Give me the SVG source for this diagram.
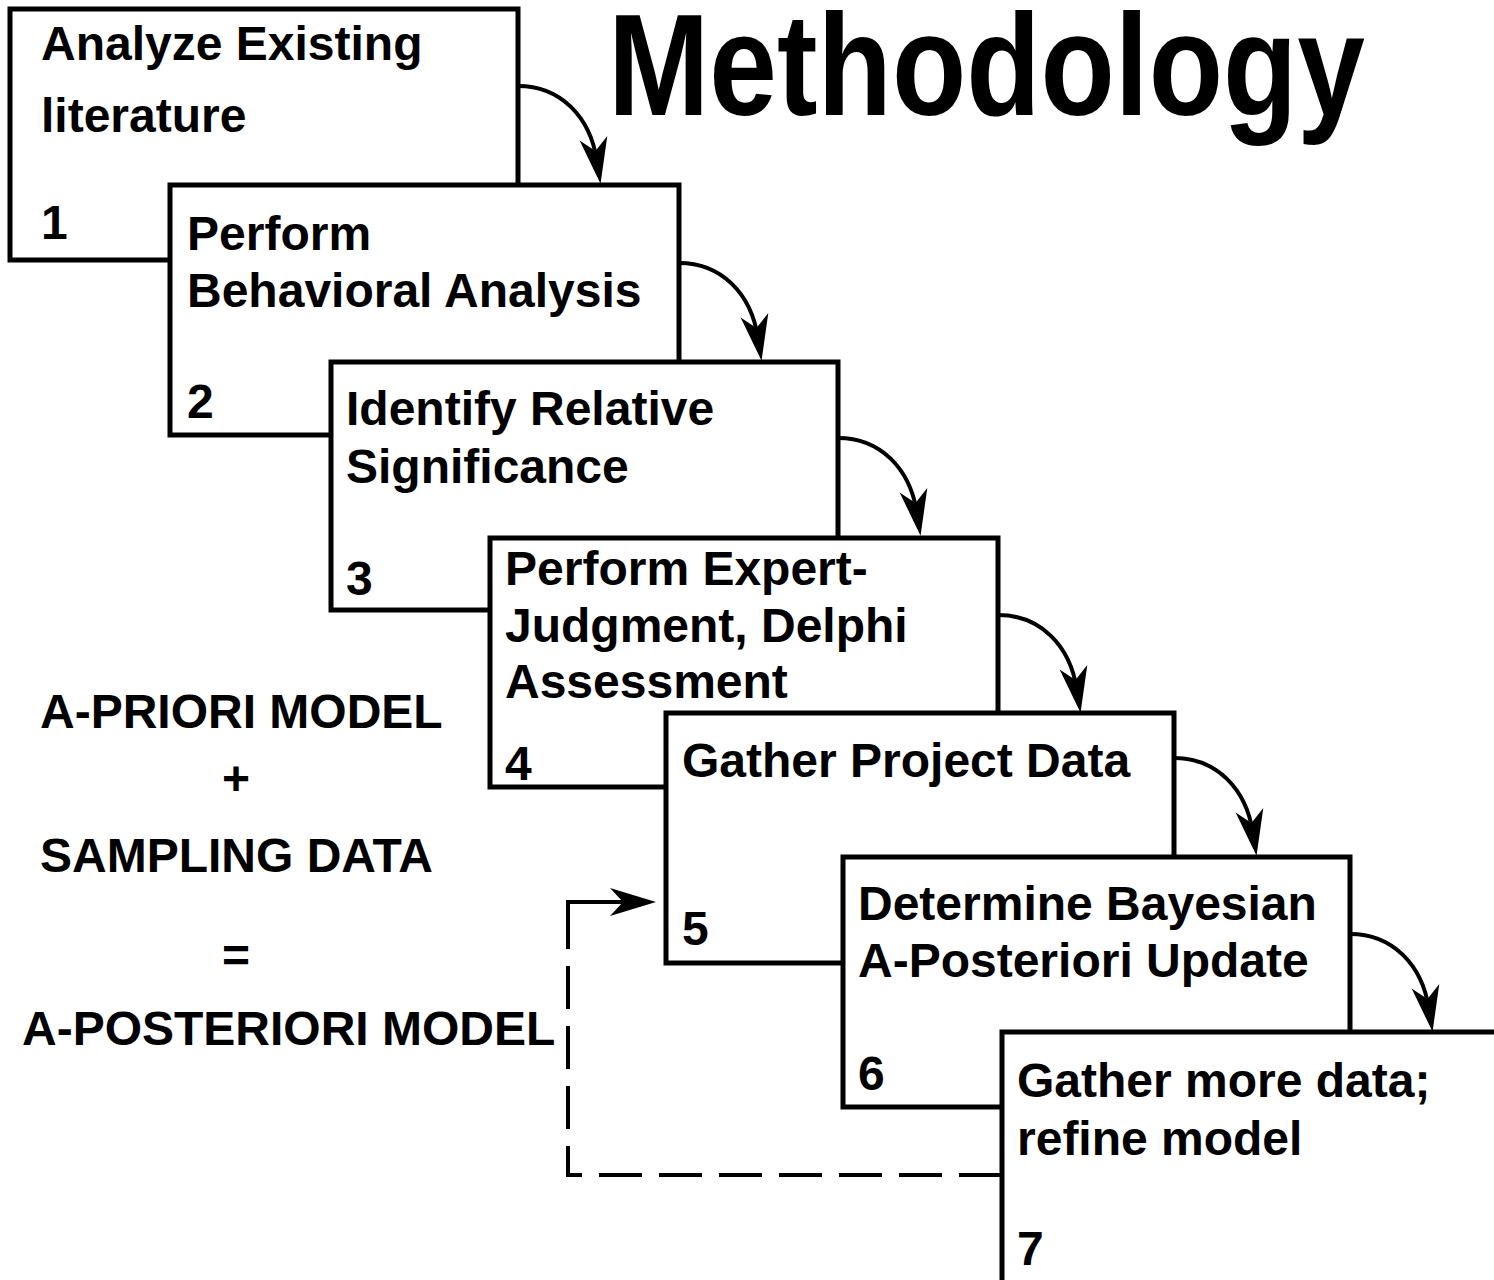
<svg xmlns="http://www.w3.org/2000/svg" width="1494" height="1280" viewBox="0 0 1494 1280">
  <style>
    .box { fill: #ffffff; stroke: #000000; stroke-width: 5; }
    .t { font-family: "Liberation Sans", Arial, sans-serif; font-weight: bold; font-size: 48px; fill: #000000; }
    .title { font-family: "Liberation Sans", Arial, sans-serif; font-weight: bold; font-size: 144px; fill: #000000; }
    .arc { fill: none; stroke: #000000; stroke-width: 4; marker-end: url(#arrow); }
    .dash { fill: none; stroke: #000000; stroke-width: 4; stroke-dasharray: 43 17; }
    .solid { fill: none; stroke: #000000; stroke-width: 4; marker-end: url(#arrow); }
  </style>
  <defs>
    <marker id="arrow" markerUnits="userSpaceOnUse" markerWidth="48" markerHeight="30" refX="23" refY="14" orient="auto" overflow="visible">
      <path d="M0,0 L46,14 L0,28 L13,14 Z" fill="#000000" stroke="none"/>
    </marker>
  </defs>
  <rect width="1494" height="1280" fill="#ffffff"/>

  <text class="title" x="608" y="115" textLength="757" lengthAdjust="spacingAndGlyphs">Methodology</text>

  <g id="node1">
    <rect class="box" x="10" y="9" width="508" height="251"/>
    <text class="t" x="41" y="60">Analyze Existing</text>
    <text class="t" x="41" y="132">literature</text>
    <text class="t" x="41" y="239">1</text>
  </g>
  <g id="node2">
    <rect class="box" x="170" y="185" width="509" height="250"/>
    <text class="t" x="187" y="250">Perform</text>
    <text class="t" x="187" y="307">Behavioral Analysis</text>
    <text class="t" x="187" y="418">2</text>
  </g>
  <g id="node3">
    <rect class="box" x="331" y="362" width="507" height="248"/>
    <text class="t" x="346" y="425">Identify Relative</text>
    <text class="t" x="346" y="483">Significance</text>
    <text class="t" x="346" y="595">3</text>
  </g>
  <g id="node4">
    <rect class="box" x="490" y="538" width="508" height="249"/>
    <text class="t" x="505" y="585">Perform Expert-</text>
    <text class="t" x="505" y="642">Judgment, Delphi</text>
    <text class="t" x="505" y="698">Assessment</text>
    <text class="t" x="505" y="780">4</text>
  </g>
  <g id="node5">
    <rect class="box" x="666" y="713" width="508" height="250"/>
    <text class="t" x="682" y="777">Gather Project Data</text>
    <text class="t" x="682" y="945">5</text>
  </g>
  <g id="node6">
    <rect class="box" x="843" y="857" width="507" height="250"/>
    <text class="t" x="858" y="920">Determine Bayesian</text>
    <text class="t" x="858" y="977">A-Posteriori Update</text>
    <text class="t" x="858" y="1090">6</text>
  </g>
  <g id="node7">
    <rect class="box" x="1002" y="1032" width="600" height="400"/>
    <text class="t" x="1017" y="1097">Gather more data;</text>
    <text class="t" x="1017" y="1155">refine model</text>
    <text class="t" x="1017" y="1265">7</text>
  </g>

  <g id="formula">
    <text class="t" x="40" y="728">A-PRIORI MODEL</text>
    <text class="t" x="236" y="795" text-anchor="middle">+</text>
    <text class="t" x="40" y="872">SAMPLING DATA</text>
    <text class="t" x="236" y="972" text-anchor="middle">=</text>
    <text class="t" x="22" y="1045">A-POSTERIORI MODEL</text>
  </g>

  <g id="connectors">
    <path class="arc" d="M518,86 c42,0 72,30 79,75"/>
    <path class="arc" d="M679,263 c42,0 72,30 79,75"/>
    <path class="arc" d="M838,438 c42,0 72,30 79,75"/>
    <path class="arc" d="M998,615 c42,0 72,30 79,75"/>
    <path class="arc" d="M1174,758 c42,0 72,30 79,75"/>
    <path class="arc" d="M1350,934 c42,0 72,30 79,75"/>
    <path class="dash" d="M1002,1175 H568 V933"/>
    <path class="solid" d="M568,933 V902 H633"/>
  </g>
</svg>
